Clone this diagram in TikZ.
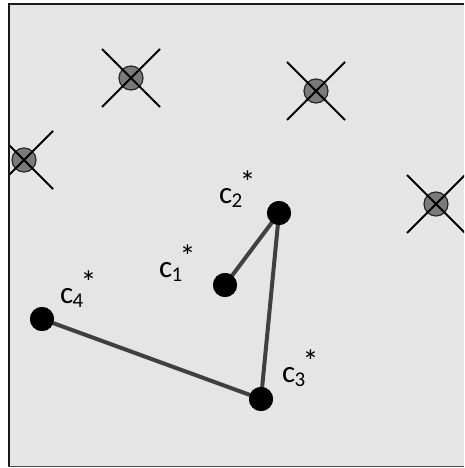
\documentclass[tikz,border=0pt]{standalone}
\usepackage{fontspec}
\setmainfont{Carlito}
\begin{document}
\begin{tikzpicture}[x=1pt,y=-1pt,
  crossarm/.style={black,line width=1.8pt},
  killed/.style={circle,minimum size=24pt,inner sep=0,fill=killc,draw=black!85,line width=1.2pt},
  center/.style={circle,minimum size=24pt,inner sep=0,fill=black},
  link/.style={draw=linkc,line width=4pt},
  lab/.style={inner sep=0,font=\fontsize{31}{31}\selectfont},
  sub/.style={inner sep=0,font=\fontsize{21}{21}\selectfont},
  star/.style={inner sep=0,font=\fontsize{32}{32}\selectfont}]
\definecolor{bgc}{HTML}{E5E5E5}
\definecolor{linkc}{HTML}{404040}
\definecolor{killc}{HTML}{7A7A7A}
\useasboundingbox (0,0) rectangle (464,468);
\fill[bgc] (8,3) rectangle (464,466);
\draw[black!70,line width=0.6pt] (8,466.5) -- (464,466.5);
\draw[black!90,line width=2.5pt] (9,466) -- (9,4) -- (464,4);
\begin{scope}
\clip (10,5) rectangle (464,466);
% crossed circles
\foreach \n/\x/\y in {k1/131/78,k2/316/91,k3/24/160,k4/436/204}{
  \node[killed] (\n) at (\x,\y) {};
  \coordinate (\n a) at (\x-29,\y-29);
  \coordinate (\n b) at (\x+29,\y+29);
  \coordinate (\n c) at (\x-29,\y+29);
  \coordinate (\n d) at (\x+29,\y-29);
  \draw[crossarm] (\n a) -- (\n b);
  \draw[crossarm] (\n c) -- (\n d);
}
\end{scope}
% links
\node[center] (c1) at (225,285) {};
\node[center] (c2) at (279,213) {};
\node[center] (c3) at (261,399) {};
\node[center] (c4) at (42,319) {};
\draw[link] (c1.center) -- (c2.center) -- (c3.center) -- (c4.center);
\foreach \n in {c1,c2,c3,c4}{\node[center] at (\n) {};}
% labels
\foreach \n/\x/\y/\s in {l1/159/277/1,l2/219/203/2,l3/282/382/3,l4/60/303/4}{
  \node[lab,anchor=base west] (\n) at (\x,\y) {c};
  \node[sub,anchor=base west] (\n s) at (\x+12.5,\y+4) {\s};
  \node[star] (\n t) at (\x+28.5,\y-21) {*};
}
\end{tikzpicture}
\end{document}
